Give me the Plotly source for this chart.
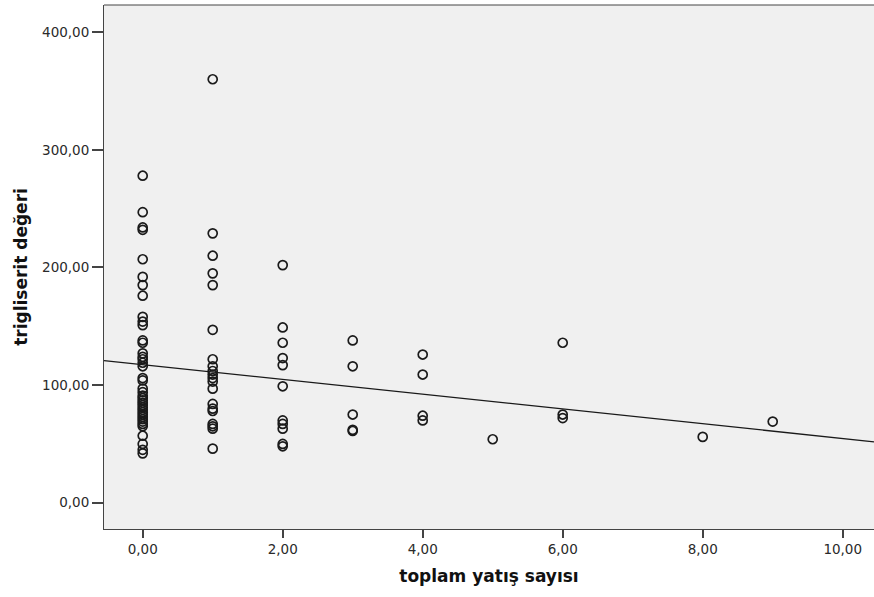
import numpy as np
import plotly.graph_objects as go

# toplam yatış sayısı (x) and trigliserit değeri (y), grouped by x value
x0_vals = [278, 247, 234, 232, 207, 192, 185, 176, 158, 154, 151, 138, 136,
           127, 124, 122, 119, 116, 106, 104, 97, 94, 91, 89, 87, 85, 83, 81,
           79, 77, 75, 73, 71, 69, 67, 65, 57, 50, 45, 42]
x1_vals = [360, 229, 210, 195, 185, 147, 122, 116, 112, 109, 106, 103, 97,
           84, 80, 78, 67, 65, 63, 46]
x2_vals = [202, 149, 136, 123, 117, 99, 70, 67, 63, 50, 48]
x3_vals = [138, 116, 75, 62, 61]
x4_vals = [126, 109, 74, 70]
x5_vals = [54]
x6_vals = [136, 75, 72]
x8_vals = [56]
x9_vals = [69]

groups = {0: x0_vals, 1: x1_vals, 2: x2_vals, 3: x3_vals, 4: x4_vals,
          5: x5_vals, 6: x6_vals, 8: x8_vals, 9: x9_vals}

# linear fit line: y = fit_intercept + fit_slope * x
fit_intercept = 117.4
fit_slope = -6.28

x_ticks = [0, 2, 4, 6, 8, 10]
y_ticks = [0, 100, 200, 300, 400]
x_range = [-0.553, 10.447]
y_range = [-22.3, 423.1]

xs = np.array([k for k, v in groups.items() for _ in v], dtype=float)
ys = np.array([y for v in groups.values() for y in v], dtype=float)

line_x = np.array(x_range)
line_y = fit_intercept + fit_slope * line_x

fig = go.Figure()
fig.add_trace(go.Scatter(
    x=line_x, y=line_y, mode="lines",
    line=dict(color="#1a1a1a", width=1.3), hoverinfo="skip", showlegend=False))
fig.add_trace(go.Scatter(
    x=xs, y=ys, mode="markers",
    marker=dict(symbol="circle-open", size=9, color="#1a1a1a",
                line=dict(width=1.7, color="#1a1a1a")),
    showlegend=False))

tick_font = dict(family="DejaVu Sans, Verdana, sans-serif", size=13.5, color="#2a2a2a")
title_font = dict(family="DejaVu Sans, Verdana, sans-serif", size=17, color="#111111")

fig.update_layout(
    width=874, height=597,
    margin=dict(l=104, r=0, t=5, b=68),
    paper_bgcolor="white", plot_bgcolor="#f0f0f0",
    separators=",.",
    font=tick_font,
    xaxis=dict(range=x_range, tickvals=x_ticks, tickformat=".2f",
               showgrid=False, zeroline=False, showline=True,
               linecolor="#444444", linewidth=1, mirror=False,
               ticks="outside", ticklen=8, tickwidth=1.5, tickcolor="#444444",
               tickfont=tick_font,
               title=dict(text="<b>toplam yatış sayısı</b>",
                          font=title_font, standoff=13)),
    yaxis=dict(range=y_range, tickvals=y_ticks, tickformat=".2f",
               showgrid=False, zeroline=False, showline=True,
               linecolor="#444444", linewidth=1, mirror=False,
               ticks="outside", ticklen=11, tickwidth=1.5, tickcolor="#444444",
               tickfont=tick_font,
               title=dict(text="<b>trigliserit değeri</b>",
                          font=title_font, standoff=10)),
)
# top border of the plot frame
fig.add_shape(type="line", xref="paper", yref="paper", x0=0, x1=1, y0=1, y1=1,
              line=dict(color="#444444", width=1))

fig.write_html("out.html")
